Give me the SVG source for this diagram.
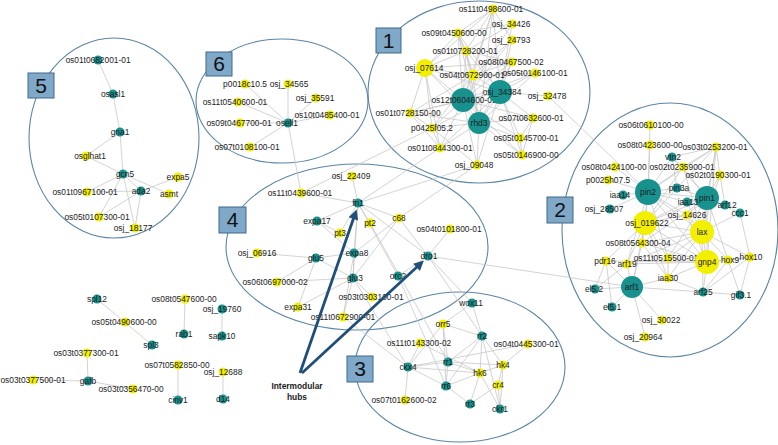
<svg xmlns="http://www.w3.org/2000/svg" width="778" height="445" viewBox="0 0 778 445">
<defs>
<style>
.mod{fill:none;stroke:#5b86a6;stroke-width:1.1}
.e line{stroke:#c8c8c8;stroke-width:0.8}
.t{fill:#18928e}
.y{fill:#f3ef00}
text{font-family:"Liberation Sans",Arial,sans-serif;font-size:8.4px;fill:#1c1c1c;text-anchor:middle}
.box rect{fill:#7fa8c9;stroke:#3f6a8c;stroke-width:1}
.box text{font-size:21px;fill:#111}
.arr{stroke:#1f4e79;stroke-width:2.8;fill:none}
.hub{font-weight:bold;font-size:8.4px}
</style>
<marker id="ah" viewBox="0 0 10 10" refX="2" refY="5" markerWidth="13" markerHeight="10" markerUnits="userSpaceOnUse" orient="auto"><path d="M0,0 L10,5 L0,10 z" fill="#1f4e79"/></marker>
</defs>
<rect width="778" height="445" fill="#ffffff"/>
<g id="modules">
<ellipse class="mod" cx="114" cy="138" rx="85" ry="100"/>
<ellipse class="mod" cx="282" cy="101" rx="86" ry="62"/>
<ellipse class="mod" cx="479" cy="92" rx="111" ry="91"/>
<ellipse class="mod" cx="670" cy="230" rx="108" ry="127"/>
<ellipse class="mod" cx="357" cy="247" rx="131" ry="83"/>
<ellipse class="mod" cx="460" cy="367" rx="105" ry="75"/>
</g>
<g id="connectors" class="e">
<line x1="98" y1="60" x2="113" y2="94"/><line x1="113" y1="94" x2="120" y2="132"/><line x1="120" y1="132" x2="86" y2="156"/><line x1="120" y1="132" x2="123" y2="174"/><line x1="86" y1="156" x2="123" y2="174"/><line x1="123" y1="174" x2="169" y2="194"/><line x1="123" y1="174" x2="87" y2="192"/><line x1="123" y1="174" x2="99" y2="217"/><line x1="123" y1="174" x2="135" y2="228"/><line x1="123" y1="174" x2="141" y2="191"/><line x1="141" y1="191" x2="178" y2="177"/><line x1="141" y1="191" x2="87" y2="192"/><line x1="141" y1="191" x2="99" y2="217"/><line x1="141" y1="191" x2="135" y2="228"/>
<line x1="288" y1="123" x2="245" y2="84"/><line x1="288" y1="123" x2="288" y2="84"/><line x1="288" y1="123" x2="316" y2="98"/><line x1="288" y1="123" x2="238" y2="102"/><line x1="288" y1="123" x2="330" y2="115"/><line x1="288" y1="123" x2="240" y2="123"/><line x1="288" y1="123" x2="250" y2="147"/><line x1="288" y1="123" x2="301" y2="193"/>
<line x1="463" y1="100" x2="493" y2="9"/><line x1="463" y1="100" x2="512" y2="24"/><line x1="463" y1="100" x2="458" y2="33"/><line x1="463" y1="100" x2="512" y2="40"/><line x1="463" y1="100" x2="466" y2="51"/><line x1="463" y1="100" x2="425" y2="68"/><line x1="463" y1="100" x2="512" y2="62"/><line x1="463" y1="100" x2="473" y2="75"/><line x1="463" y1="100" x2="535" y2="73"/><line x1="463" y1="100" x2="500" y2="92"/><line x1="463" y1="100" x2="410" y2="113"/><line x1="463" y1="100" x2="432" y2="128"/><line x1="463" y1="100" x2="479" y2="123"/><line x1="463" y1="100" x2="533" y2="118"/><line x1="463" y1="100" x2="520" y2="138"/><line x1="463" y1="100" x2="522" y2="155"/><line x1="463" y1="100" x2="440" y2="148"/><line x1="463" y1="100" x2="477" y2="165"/>
<line x1="500" y1="92" x2="493" y2="9"/><line x1="500" y1="92" x2="512" y2="24"/><line x1="500" y1="92" x2="458" y2="33"/><line x1="500" y1="92" x2="512" y2="40"/><line x1="500" y1="92" x2="466" y2="51"/><line x1="500" y1="92" x2="425" y2="68"/><line x1="500" y1="92" x2="512" y2="62"/><line x1="500" y1="92" x2="473" y2="75"/><line x1="500" y1="92" x2="535" y2="73"/><line x1="500" y1="92" x2="548" y2="96"/><line x1="500" y1="92" x2="410" y2="113"/><line x1="500" y1="92" x2="432" y2="128"/><line x1="500" y1="92" x2="479" y2="123"/><line x1="500" y1="92" x2="533" y2="118"/><line x1="500" y1="92" x2="520" y2="138"/><line x1="500" y1="92" x2="522" y2="155"/><line x1="500" y1="92" x2="440" y2="148"/><line x1="500" y1="92" x2="477" y2="165"/>
<line x1="479" y1="123" x2="493" y2="9"/><line x1="479" y1="123" x2="458" y2="33"/><line x1="479" y1="123" x2="466" y2="51"/><line x1="479" y1="123" x2="425" y2="68"/><line x1="479" y1="123" x2="512" y2="62"/><line x1="479" y1="123" x2="473" y2="75"/><line x1="479" y1="123" x2="535" y2="73"/><line x1="479" y1="123" x2="410" y2="113"/><line x1="479" y1="123" x2="432" y2="128"/><line x1="479" y1="123" x2="533" y2="118"/><line x1="479" y1="123" x2="520" y2="138"/><line x1="479" y1="123" x2="522" y2="155"/><line x1="479" y1="123" x2="440" y2="148"/><line x1="479" y1="123" x2="477" y2="165"/>
<line x1="425" y1="68" x2="493" y2="9"/><line x1="425" y1="68" x2="458" y2="33"/><line x1="425" y1="68" x2="466" y2="51"/><line x1="425" y1="68" x2="473" y2="75"/><line x1="425" y1="68" x2="410" y2="113"/><line x1="425" y1="68" x2="432" y2="128"/><line x1="425" y1="68" x2="440" y2="148"/><line x1="425" y1="68" x2="512" y2="62"/>
<line x1="493" y1="9" x2="458" y2="33"/><line x1="493" y1="9" x2="466" y2="51"/><line x1="493" y1="9" x2="473" y2="75"/><line x1="493" y1="9" x2="512" y2="40"/><line x1="458" y1="33" x2="466" y2="51"/><line x1="458" y1="33" x2="473" y2="75"/><line x1="458" y1="33" x2="512" y2="24"/><line x1="466" y1="51" x2="473" y2="75"/><line x1="466" y1="51" x2="512" y2="62"/><line x1="466" y1="51" x2="512" y2="24"/><line x1="473" y1="75" x2="512" y2="62"/><line x1="473" y1="75" x2="535" y2="73"/><line x1="473" y1="75" x2="512" y2="40"/><line x1="473" y1="75" x2="410" y2="113"/><line x1="473" y1="75" x2="432" y2="128"/><line x1="410" y1="113" x2="432" y2="128"/><line x1="410" y1="113" x2="440" y2="148"/><line x1="432" y1="128" x2="440" y2="148"/><line x1="432" y1="128" x2="477" y2="165"/><line x1="533" y1="118" x2="520" y2="138"/><line x1="533" y1="118" x2="522" y2="155"/><line x1="520" y1="138" x2="522" y2="155"/>
<line x1="548" y1="96" x2="648" y2="192"/><line x1="440" y1="148" x2="358" y2="203"/><line x1="477" y1="165" x2="399" y2="218"/><line x1="477" y1="165" x2="358" y2="203"/><line x1="432" y1="128" x2="301" y2="193"/>
<line x1="648" y1="192" x2="650" y2="125"/><line x1="648" y1="192" x2="650" y2="145"/><line x1="648" y1="192" x2="615" y2="167"/><line x1="648" y1="192" x2="608" y2="180"/><line x1="648" y1="192" x2="623" y2="195"/><line x1="648" y1="192" x2="610" y2="209"/><line x1="648" y1="192" x2="677" y2="188"/><line x1="648" y1="192" x2="672" y2="157"/><line x1="648" y1="192" x2="683" y2="167"/><line x1="648" y1="192" x2="716" y2="147"/><line x1="648" y1="192" x2="707" y2="198"/><line x1="648" y1="192" x2="687" y2="202"/><line x1="648" y1="192" x2="687" y2="215"/><line x1="648" y1="192" x2="645" y2="223"/><line x1="648" y1="192" x2="702" y2="232"/><line x1="648" y1="192" x2="642" y2="243"/><line x1="648" y1="192" x2="668" y2="258"/><line x1="648" y1="192" x2="627" y2="264"/><line x1="648" y1="192" x2="707" y2="262"/>
<line x1="707" y1="198" x2="716" y2="147"/><line x1="707" y1="198" x2="683" y2="167"/><line x1="707" y1="198" x2="720" y2="175"/><line x1="707" y1="198" x2="677" y2="188"/><line x1="707" y1="198" x2="687" y2="202"/><line x1="707" y1="198" x2="725" y2="205"/><line x1="707" y1="198" x2="740" y2="213"/><line x1="707" y1="198" x2="687" y2="215"/><line x1="707" y1="198" x2="645" y2="223"/><line x1="707" y1="198" x2="702" y2="232"/><line x1="707" y1="198" x2="642" y2="243"/><line x1="707" y1="198" x2="668" y2="258"/><line x1="707" y1="198" x2="707" y2="262"/><line x1="707" y1="198" x2="728" y2="260"/><line x1="707" y1="198" x2="672" y2="157"/>
<line x1="702" y1="232" x2="683" y2="167"/><line x1="702" y1="232" x2="716" y2="147"/><line x1="702" y1="232" x2="720" y2="175"/><line x1="702" y1="232" x2="645" y2="223"/><line x1="702" y1="232" x2="642" y2="243"/><line x1="702" y1="232" x2="668" y2="258"/><line x1="702" y1="232" x2="707" y2="262"/><line x1="702" y1="232" x2="728" y2="260"/><line x1="702" y1="232" x2="750" y2="257"/><line x1="702" y1="232" x2="687" y2="202"/><line x1="702" y1="232" x2="687" y2="215"/><line x1="702" y1="232" x2="668" y2="278"/><line x1="702" y1="232" x2="703" y2="292"/><line x1="702" y1="232" x2="627" y2="264"/><line x1="702" y1="232" x2="740" y2="213"/>
<line x1="707" y1="262" x2="645" y2="223"/><line x1="707" y1="262" x2="642" y2="243"/><line x1="707" y1="262" x2="668" y2="258"/><line x1="707" y1="262" x2="728" y2="260"/><line x1="707" y1="262" x2="668" y2="278"/><line x1="707" y1="262" x2="703" y2="292"/><line x1="707" y1="262" x2="627" y2="264"/><line x1="707" y1="262" x2="606" y2="261"/><line x1="707" y1="262" x2="687" y2="215"/><line x1="707" y1="262" x2="716" y2="147"/><line x1="707" y1="262" x2="750" y2="257"/>
<line x1="645" y1="223" x2="677" y2="188"/><line x1="645" y1="223" x2="687" y2="202"/><line x1="645" y1="223" x2="687" y2="215"/><line x1="645" y1="223" x2="642" y2="243"/><line x1="645" y1="223" x2="606" y2="261"/><line x1="645" y1="223" x2="627" y2="264"/><line x1="645" y1="223" x2="668" y2="258"/><line x1="645" y1="223" x2="668" y2="278"/><line x1="645" y1="223" x2="632" y2="287"/><line x1="645" y1="223" x2="683" y2="167"/>
<line x1="632" y1="287" x2="595" y2="289"/><line x1="632" y1="287" x2="612" y2="307"/><line x1="632" y1="287" x2="606" y2="261"/><line x1="632" y1="287" x2="627" y2="264"/><line x1="632" y1="287" x2="668" y2="278"/><line x1="632" y1="287" x2="703" y2="292"/><line x1="632" y1="287" x2="662" y2="320"/><line x1="632" y1="287" x2="645" y2="337"/><line x1="632" y1="287" x2="642" y2="243"/>
<line x1="703" y1="292" x2="668" y2="278"/><line x1="703" y1="292" x2="740" y2="295"/><line x1="703" y1="292" x2="728" y2="260"/><line x1="703" y1="292" x2="750" y2="257"/><line x1="750" y1="257" x2="740" y2="295"/><line x1="750" y1="257" x2="740" y2="213"/><line x1="750" y1="257" x2="728" y2="260"/><line x1="728" y1="260" x2="740" y2="295"/><line x1="606" y1="261" x2="595" y2="289"/><line x1="606" y1="261" x2="612" y2="307"/><line x1="627" y1="264" x2="595" y2="289"/><line x1="668" y1="278" x2="668" y2="258"/><line x1="668" y1="278" x2="642" y2="243"/><line x1="716" y1="147" x2="672" y2="157"/><line x1="716" y1="147" x2="683" y2="167"/><line x1="716" y1="147" x2="677" y2="188"/><line x1="716" y1="147" x2="720" y2="175"/><line x1="672" y1="157" x2="683" y2="167"/><line x1="672" y1="157" x2="677" y2="188"/><line x1="720" y1="175" x2="725" y2="205"/>
<line x1="358" y1="203" x2="352" y2="176"/><line x1="358" y1="203" x2="301" y2="193"/><line x1="358" y1="203" x2="317" y2="221"/><line x1="358" y1="203" x2="340" y2="233"/><line x1="358" y1="203" x2="370" y2="223"/><line x1="358" y1="203" x2="354" y2="253"/><line x1="358" y1="203" x2="353" y2="278"/><line x1="358" y1="203" x2="428" y2="256"/><line x1="358" y1="203" x2="398" y2="276"/><line x1="358" y1="203" x2="399" y2="218"/>
<line x1="317" y1="221" x2="340" y2="233"/><line x1="317" y1="221" x2="354" y2="253"/><line x1="257" y1="253" x2="316" y2="258"/><line x1="316" y1="258" x2="354" y2="253"/><line x1="316" y1="258" x2="277" y2="282"/><line x1="316" y1="258" x2="298" y2="307"/><line x1="316" y1="258" x2="353" y2="278"/><line x1="354" y1="253" x2="353" y2="278"/><line x1="354" y1="253" x2="399" y2="218"/><line x1="354" y1="253" x2="343" y2="317"/><line x1="353" y1="278" x2="277" y2="282"/><line x1="353" y1="278" x2="298" y2="307"/><line x1="353" y1="278" x2="343" y2="317"/><line x1="353" y1="278" x2="372" y2="297"/><line x1="428" y1="256" x2="450" y2="229"/><line x1="428" y1="256" x2="399" y2="218"/><line x1="428" y1="256" x2="398" y2="276"/><line x1="399" y1="218" x2="353" y2="278"/>
<line x1="428" y1="256" x2="632" y2="287"/><line x1="428" y1="256" x2="472" y2="303"/><line x1="428" y1="256" x2="482" y2="336"/><line x1="353" y1="278" x2="408" y2="367"/><line x1="343" y1="317" x2="408" y2="367"/><line x1="398" y1="276" x2="446" y2="386"/><line x1="370" y1="223" x2="448" y2="362"/>
<line x1="472" y1="303" x2="482" y2="336"/><line x1="472" y1="303" x2="443" y2="324"/><line x1="482" y1="336" x2="443" y2="324"/><line x1="482" y1="336" x2="448" y2="362"/><line x1="482" y1="336" x2="480" y2="373"/><line x1="482" y1="336" x2="503" y2="365"/><line x1="482" y1="336" x2="500" y2="409"/><line x1="482" y1="336" x2="446" y2="386"/><line x1="443" y1="324" x2="408" y2="367"/><line x1="443" y1="324" x2="448" y2="362"/><line x1="443" y1="324" x2="446" y2="386"/><line x1="420" y1="343" x2="480" y2="373"/><line x1="420" y1="343" x2="408" y2="367"/><line x1="528" y1="344" x2="408" y2="367"/><line x1="528" y1="344" x2="503" y2="365"/><line x1="448" y1="362" x2="408" y2="367"/><line x1="448" y1="362" x2="503" y2="365"/><line x1="448" y1="362" x2="480" y2="373"/><line x1="448" y1="362" x2="446" y2="386"/><line x1="408" y1="367" x2="446" y2="386"/><line x1="408" y1="367" x2="480" y2="373"/><line x1="408" y1="367" x2="405" y2="400"/><line x1="446" y1="386" x2="470" y2="404"/><line x1="446" y1="386" x2="480" y2="373"/><line x1="480" y1="373" x2="470" y2="404"/><line x1="480" y1="373" x2="500" y2="409"/><line x1="480" y1="373" x2="503" y2="365"/><line x1="503" y1="365" x2="498" y2="385"/><line x1="503" y1="365" x2="500" y2="409"/><line x1="498" y1="385" x2="500" y2="409"/><line x1="498" y1="385" x2="470" y2="404"/>
<line x1="97" y1="299" x2="152" y2="345"/><line x1="185" y1="299" x2="184" y2="334"/><line x1="222" y1="309" x2="222" y2="336"/><line x1="87" y1="353" x2="88" y2="381"/><line x1="33" y1="380" x2="88" y2="381"/><line x1="88" y1="381" x2="133" y2="389"/><line x1="178" y1="365" x2="178" y2="400"/><line x1="223" y1="372" x2="223" y2="399"/>
</g>
<g id="nodes">
<g id="n-os01t0682001-01"><circle class="t" cx="98" cy="60" r="4.5"/><text x="98" y="63">os01t0682001-01</text></g>
<g id="n-osasl1"><circle class="t" cx="113" cy="94" r="4.5"/><text x="113" y="97">osasl1</text></g>
<g id="n-gna1"><circle class="t" cx="120" cy="132" r="4.5"/><text x="120" y="135">gna1</text></g>
<g id="n-osglhat1"><circle class="y" cx="86" cy="156" r="4.5"/><text x="90" y="159">osglhat1</text></g>
<g id="n-gcn5"><circle class="t" cx="123" cy="174" r="4.5"/><text x="125" y="177">gcn5</text></g>
<g id="n-expa5"><circle class="y" cx="178" cy="177" r="4.5"/><text x="178" y="180">expa5</text></g>
<g id="n-ada2"><circle class="t" cx="141" cy="191" r="4.5"/><text x="141" y="194">ada2</text></g>
<g id="n-asmt"><circle class="y" cx="169" cy="194" r="4.5"/><text x="169" y="197">asmt</text></g>
<g id="n-os01t0967100-01"><circle class="y" cx="87" cy="192" r="4.5"/><text x="85" y="195">os01t0967100-01</text></g>
<g id="n-os05t0107300-01"><circle class="y" cx="99" cy="217" r="4.5"/><text x="97" y="220">os05t0107300-01</text></g>
<g id="n-osj_18177"><circle class="y" cx="135" cy="228" r="4.5"/><text x="133" y="231">osj_18177</text></g>

<g id="n-osell1"><circle class="t" cx="288" cy="123" r="4.5"/><text x="287" y="126">osell1</text></g>
<g id="n-p0018c10-5"><circle class="y" cx="245" cy="84" r="4.5"/><text x="245" y="87">p0018c10.5</text></g>
<g id="n-osj_34565"><circle class="y" cx="288" cy="84" r="4.5"/><text x="289" y="87">osj_34565</text></g>
<g id="n-osj_35591"><circle class="y" cx="316" cy="98" r="4.5"/><text x="315" y="101">osj_35591</text></g>
<g id="n-os11t0540600-01"><circle class="y" cx="238" cy="102" r="4.5"/><text x="235" y="105">os11t0540600-01</text></g>
<g id="n-os10t0485400-01"><circle class="y" cx="330" cy="115" r="4.5"/><text x="327" y="118">os10t0485400-01</text></g>
<g id="n-os09t0467700-01"><circle class="y" cx="240" cy="123" r="4.5"/><text x="239" y="126">os09t0467700-01</text></g>
<g id="n-os07t0108100-01"><circle class="y" cx="250" cy="147" r="4.5"/><text x="247" y="150">os07t0108100-01</text></g>

<g id="n-os11t0498600-01"><circle class="y" cx="493" cy="9" r="4.5"/><text x="491" y="12">os11t0498600-01</text></g>
<g id="n-osj_34426"><circle class="y" cx="512" cy="24" r="4.5"/><text x="511" y="27">osj_34426</text></g>
<g id="n-os09t0450600-00"><circle class="y" cx="458" cy="33" r="4.5"/><text x="454" y="36">os09t0450600-00</text></g>
<g id="n-osj_24793"><circle class="y" cx="512" cy="40" r="4.5"/><text x="511" y="43">osj_24793</text></g>
<g id="n-os01t0728200-01"><circle class="y" cx="466" cy="51" r="4.5"/><text x="465" y="54">os01t0728200-01</text></g>
<g id="n-osj_07614"><circle class="y" cx="425" cy="68" r="9"/><text x="424" y="71">osj_07614</text></g>
<g id="n-os08t0467500-02"><circle class="y" cx="512" cy="62" r="4.5"/><text x="511" y="65">os08t0467500-02</text></g>
<g id="n-os04t0672900-01"><circle class="y" cx="473" cy="75" r="5.5"/><text x="472" y="78">os04t0672900-01</text></g>
<g id="n-os05t0146100-01"><circle class="y" cx="535" cy="73" r="4.5"/><text x="535" y="76">os05t0146100-01</text></g>
<g id="n-os12t0604600-01"><circle class="t" cx="463" cy="100" r="12"/><text x="464" y="103">os12t0604600-01</text></g>
<g id="n-osj_34384"><circle class="t" cx="500" cy="92" r="12"/><text x="502" y="95">osj_34384</text></g>
<g id="n-osj_32478"><circle class="y" cx="548" cy="96" r="4.5"/><text x="547" y="99">osj_32478</text></g>
<g id="n-os01t0728150-00"><circle class="y" cx="410" cy="113" r="4.5"/><text x="408" y="116">os01t0728150-00</text></g>
<g id="n-p0425f05-2"><circle class="y" cx="432" cy="128" r="4.5"/><text x="432" y="131">p0425f05.2</text></g>
<g id="n-rhd3"><circle class="t" cx="479" cy="123" r="11"/><text x="479" y="126">rhd3</text></g>
<g id="n-os07t0632600-01"><circle class="y" cx="533" cy="118" r="4.5"/><text x="531" y="121">os07t0632600-01</text></g>
<g id="n-os05t0145700-01"><circle class="y" cx="520" cy="138" r="4.5"/><text x="526" y="141">os05t0145700-01</text></g>
<g id="n-os05t0146900-00"><circle class="y" cx="522" cy="155" r="4.5"/><text x="526" y="158">os05t0146900-00</text></g>
<g id="n-os01t0844300-01"><circle class="y" cx="440" cy="148" r="4.5"/><text x="440" y="151">os01t0844300-01</text></g>
<g id="n-osj_09048"><circle class="y" cx="477" cy="165" r="4.5"/><text x="474" y="168">osj_09048</text></g>

<g id="n-os06t0610100-00"><circle class="y" cx="650" cy="125" r="4.5"/><text x="651" y="128">os06t0610100-00</text></g>
<g id="n-os08t0423600-00"><circle class="y" cx="650" cy="145" r="4.5"/><text x="650" y="148">os08t0423600-00</text></g>
<g id="n-os03t0253200-01"><circle class="y" cx="716" cy="147" r="4.5"/><text x="715" y="150">os03t0253200-01</text></g>
<g id="n-vtn2"><circle class="t" cx="672" cy="157" r="4.5"/><text x="673" y="160">vtn2</text></g>
<g id="n-os02t0235900-01"><circle class="y" cx="683" cy="167" r="4.5"/><text x="682" y="170">os02t0235900-01</text></g>
<g id="n-os08t0424100-00"><circle class="y" cx="615" cy="167" r="4.5"/><text x="614" y="170">os08t0424100-00</text></g>
<g id="n-os02t0190300-01"><circle class="y" cx="720" cy="175" r="4.5"/><text x="718" y="178">os02t0190300-01</text></g>
<g id="n-p0025h07-5"><circle class="y" cx="608" cy="180" r="4.5"/><text x="608" y="183">p0025h07.5</text></g>
<g id="n-pin3a"><circle class="t" cx="677" cy="188" r="4.5"/><text x="679" y="191">pin3a</text></g>
<g id="n-pin2"><circle class="t" cx="648" cy="192" r="13"/><text x="648" y="195">pin2</text></g>
<g id="n-iaa14"><circle class="t" cx="623" cy="195" r="4.5"/><text x="620" y="198">iaa14</text></g>
<g id="n-osj_28507"><circle class="t" cx="610" cy="209" r="4.5"/><text x="604" y="212">osj_28507</text></g>
<g id="n-pin1"><circle class="t" cx="707" cy="198" r="12"/><text x="707" y="201">pin1</text></g>
<g id="n-iaa13"><circle class="t" cx="687" cy="202" r="4.5"/><text x="688" y="205">iaa13</text></g>
<g id="n-arf12"><circle class="t" cx="725" cy="205" r="4.5"/><text x="727" y="208">arf12</text></g>
<g id="n-ccc1"><circle class="t" cx="740" cy="213" r="4.5"/><text x="740" y="216">ccc1</text></g>
<g id="n-osj_14626"><circle class="y" cx="687" cy="215" r="4.5"/><text x="687" y="218">osj_14626</text></g>
<g id="n-osj_019622"><circle class="y" cx="645" cy="223" r="12"/><text x="647" y="226">osj_019622</text></g>
<g id="n-lax"><circle class="y" cx="702" cy="232" r="12"/><text x="702" y="235">lax</text></g>
<g id="n-os08t0564300-04"><circle class="y" cx="642" cy="243" r="4.5"/><text x="638" y="246">os08t0564300-04</text></g>
<g id="n-pdr16"><circle class="y" cx="606" cy="261" r="4.5"/><text x="605" y="264">pdr16</text></g>
<g id="n-arf19"><circle class="y" cx="627" cy="264" r="4.5"/><text x="627" y="267">arf19</text></g>
<g id="n-os11t0515500-01"><circle class="y" cx="668" cy="258" r="4.5"/><text x="666" y="261">os11t0515500-01</text></g>
<g id="n-gnp4"><circle class="y" cx="707" cy="262" r="12"/><text x="707" y="265">gnp4</text></g>
<g id="n-hox9"><circle class="y" cx="728" cy="260" r="4.5"/><text x="730" y="263">hox9</text></g>
<g id="n-hox10"><circle class="y" cx="750" cy="257" r="4.5"/><text x="751" y="260">hox10</text></g>
<g id="n-arf1"><circle class="t" cx="632" cy="287" r="11"/><text x="632" y="290">arf1</text></g>
<g id="n-iaa30"><circle class="y" cx="668" cy="278" r="4.5"/><text x="668" y="281">iaa30</text></g>
<g id="n-el5-2"><circle class="t" cx="595" cy="289" r="4.5"/><text x="594" y="292">el5.2</text></g>
<g id="n-el5-1"><circle class="t" cx="612" cy="307" r="4.5"/><text x="612" y="310">el5.1</text></g>
<g id="n-arf25"><circle class="t" cx="703" cy="292" r="4.5"/><text x="703" y="295">arf25</text></g>
<g id="n-gif3-1"><circle class="t" cx="740" cy="295" r="4.5"/><text x="741" y="298">gif3.1</text></g>
<g id="n-osj_30022"><circle class="y" cx="662" cy="320" r="4.5"/><text x="661" y="323">osj_30022</text></g>
<g id="n-osj_20964"><circle class="y" cx="645" cy="337" r="4.5"/><text x="643" y="340">osj_20964</text></g>

<g id="n-osj_22409"><circle class="y" cx="352" cy="176" r="4.5"/><text x="351" y="179">osj_22409</text></g>
<g id="n-os11t0439600-01"><circle class="y" cx="301" cy="193" r="4.5"/><text x="300" y="196">os11t0439600-01</text></g>
<g id="n-fn1"><circle class="t" cx="358" cy="203" r="4.5"/><text x="358" y="206">fn1</text></g>
<g id="n-expa17"><circle class="t" cx="317" cy="221" r="4.5"/><text x="317" y="224">expa17</text></g>
<g id="n-pt3"><circle class="y" cx="340" cy="233" r="4.5"/><text x="340" y="236">pt3</text></g>
<g id="n-pt2"><circle class="y" cx="370" cy="223" r="4.5"/><text x="370" y="226">pt2</text></g>
<g id="n-c68"><circle class="y" cx="399" cy="218" r="4.5"/><text x="399" y="221">c68</text></g>
<g id="n-os04t0101800-01"><circle class="y" cx="450" cy="229" r="4.5"/><text x="449" y="232">os04t0101800-01</text></g>
<g id="n-osj_06916"><circle class="y" cx="257" cy="253" r="4.5"/><text x="257" y="256">osj_06916</text></g>
<g id="n-glu5"><circle class="t" cx="316" cy="258" r="4.5"/><text x="316" y="261">glu5</text></g>
<g id="n-expa8"><circle class="t" cx="354" cy="253" r="4.5"/><text x="357" y="256">expa8</text></g>
<g id="n-dro1"><circle class="t" cx="428" cy="256" r="4.5"/><text x="429" y="259">dro1</text></g>
<g id="n-os06t0697000-02"><circle class="y" cx="277" cy="282" r="4.5"/><text x="275" y="285">os06t0697000-02</text></g>
<g id="n-glu3"><circle class="t" cx="353" cy="278" r="4.5"/><text x="355" y="281">glu3</text></g>
<g id="n-orc2"><circle class="t" cx="398" cy="276" r="4.5"/><text x="398" y="279">orc2</text></g>
<g id="n-os03t0303100-01"><circle class="y" cx="372" cy="297" r="4.5"/><text x="371" y="300">os03t0303100-01</text></g>
<g id="n-expa31"><circle class="y" cx="298" cy="307" r="4.5"/><text x="298" y="310">expa31</text></g>
<g id="n-os11t0672900-01"><circle class="y" cx="343" cy="317" r="4.5"/><text x="343" y="320">os11t0672900-01</text></g>

<g id="n-wox11"><circle class="t" cx="472" cy="303" r="4.5"/><text x="471" y="306">wox11</text></g>
<g id="n-orr5"><circle class="y" cx="443" cy="324" r="4.5"/><text x="443" y="327">orr5</text></g>
<g id="n-rr2"><circle class="t" cx="482" cy="336" r="4.5"/><text x="482" y="339">rr2</text></g>
<g id="n-os11t0143300-02"><circle class="y" cx="420" cy="343" r="4.5"/><text x="419" y="346">os11t0143300-02</text></g>
<g id="n-os04t0445300-01"><circle class="y" cx="528" cy="344" r="4.5"/><text x="526" y="347">os04t0445300-01</text></g>
<g id="n-rr1"><circle class="t" cx="448" cy="362" r="4.5"/><text x="448" y="365">rr1</text></g>
<g id="n-hk4"><circle class="y" cx="503" cy="365" r="4.5"/><text x="503" y="368">hk4</text></g>
<g id="n-ckx4"><circle class="t" cx="408" cy="367" r="4.5"/><text x="408" y="370">ckx4</text></g>
<g id="n-hk6"><circle class="y" cx="480" cy="373" r="4.5"/><text x="480" y="376">hk6</text></g>
<g id="n-rr6"><circle class="t" cx="446" cy="386" r="4.5"/><text x="446" y="389">rr6</text></g>
<g id="n-cr4"><circle class="y" cx="498" cy="385" r="4.5"/><text x="498" y="388">cr4</text></g>
<g id="n-os07t0162600-02"><circle class="y" cx="405" cy="400" r="4.5"/><text x="404" y="403">os07t0162600-02</text></g>
<g id="n-rr3"><circle class="t" cx="470" cy="404" r="4.5"/><text x="470" y="407">rr3</text></g>
<g id="n-ckr1"><circle class="t" cx="500" cy="409" r="4.5"/><text x="500" y="412">ckr1</text></g>

<g id="n-spl12"><circle class="t" cx="97" cy="299" r="4.5"/><text x="97" y="302">spl12</text></g>
<g id="n-os05t0490600-00"><circle class="y" cx="125" cy="322" r="4.5"/><text x="124" y="325">os05t0490600-00</text></g>
<g id="n-spl3"><circle class="t" cx="152" cy="345" r="4.5"/><text x="151" y="348">spl3</text></g>
<g id="n-os08t0547600-00"><circle class="y" cx="185" cy="299" r="4.5"/><text x="184" y="302">os08t0547600-00</text></g>
<g id="n-rab1"><circle class="t" cx="184" cy="334" r="4.5"/><text x="184" y="337">rab1</text></g>
<g id="n-osj_19760"><circle class="t" cx="222" cy="309" r="4.5"/><text x="222" y="312">osj_19760</text></g>
<g id="n-sapk10"><circle class="t" cx="222" cy="336" r="4.5"/><text x="222" y="339">sapk10</text></g>
<g id="n-os03t0377300-01"><circle class="y" cx="87" cy="353" r="4.5"/><text x="86" y="356">os03t0377300-01</text></g>
<g id="n-os03t0377500-01"><circle class="y" cx="33" cy="380" r="4.5"/><text x="33" y="383">os03t0377500-01</text></g>
<g id="n-gafb"><circle class="t" cx="88" cy="381" r="4.5"/><text x="88" y="384">gafb</text></g>
<g id="n-os03t0356470-00"><circle class="y" cx="133" cy="389" r="4.5"/><text x="131" y="392">os03t0356470-00</text></g>
<g id="n-os07t0582850-00"><circle class="y" cx="178" cy="365" r="4.5"/><text x="177" y="368">os07t0582850-00</text></g>
<g id="n-cinv1"><circle class="t" cx="178" cy="400" r="4.5"/><text x="178" y="403">cinv1</text></g>
<g id="n-osj_12688"><circle class="y" cx="223" cy="372" r="4.5"/><text x="223" y="375">osj_12688</text></g>
<g id="n-d14"><circle class="t" cx="223" cy="399" r="4.5"/><text x="223" y="402">d14</text></g>
</g>
<g id="module-labels" class="box">
<g id="box5"><rect x="28" y="73" width="26" height="25"/><text x="41" y="93">5</text></g>
<g id="box6"><rect x="206" y="52" width="26" height="24"/><text x="219" y="71">6</text></g>
<g id="box1"><rect x="376" y="28" width="25" height="25"/><text x="388.5" y="48">1</text></g>
<g id="box2"><rect x="547" y="197" width="26" height="26"/><text x="560" y="217">2</text></g>
<g id="box4"><rect x="219" y="207" width="27" height="26"/><text x="232.5" y="227">4</text></g>
<g id="box3"><rect x="347" y="356" width="26" height="26"/><text x="360" y="376">3</text></g>
</g>
<g id="hubs">
<path class="arr" d="M300,373 L354,217" marker-end="url(#ah)"/>
<path class="arr" d="M302,373 L418,266" marker-end="url(#ah)"/>
<text class="hub" x="297" y="389">Intermodular</text>
<text class="hub" x="297" y="400">hubs</text>
</g>
</svg>
